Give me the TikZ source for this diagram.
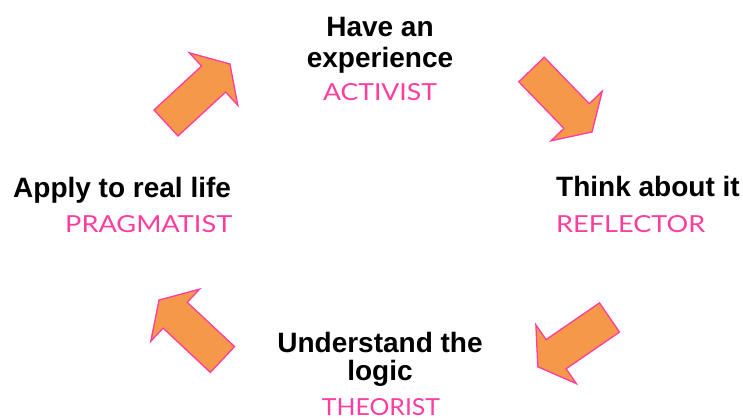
\documentclass[tikz,border=0pt]{standalone}
\usepackage{fontspec}
\setmainfont{Liberation Sans}
\newfontfamily\pinkfont{Lato}
\usepackage{graphicx}
\definecolor{pinkline}{HTML}{FF3D9E}
\definecolor{orangefill}{HTML}{F5984A}
\tikzset{
  boldtxt/.style={font=\fontsize{28}{30}\selectfont\bfseries, text=black, inner sep=0pt},
  roletxt/.style={text=pinkline, inner sep=0pt},
  blockarrow/.style={fill=orangefill, draw=pinkline, line width=1.3pt, line join=miter}
}
\newcommand\rolelabel[2]{\resizebox{#1}{17pt}{\pinkfont #2}}
\newcommand\blockarr[3]{%
  \draw[blockarrow, shift={(#1,#2)}, rotate=#3]
    (0,-17.7) -- (64.8,-17.7) -- (64.8,-35.7) -- (87,0) -- (64.8,35.7) -- (64.8,17.7) -- (0,17.7) -- cycle;}
\begin{document}
\begin{tikzpicture}[x=1pt,y=1pt]
\useasboundingbox[fill=white] (0,0) rectangle (743,-419);
% arrows
\blockarr{166}{-123}{42.7}
\blockarr{531.5}{-69.5}{-45.9}
\blockarr{609.5}{-317.5}{-145.5}
\blockarr{222.5}{-359.5}{136.9}
% top
\node[boldtxt, anchor=base] (act1) at (380,-36.5) {Have an};
\node[boldtxt, anchor=base] (act2) at (380,-68) {experience};
\node[roletxt, anchor=base] (act3) at (380,-101) {\rolelabel{114pt}{ACTIVIST}};
% right
\node[boldtxt, anchor=base west] (ref1) at (556,-197) {Think about it};
\node[roletxt, anchor=base west] (ref2) at (556,-233) {\rolelabel{149pt}{REFLECTOR}};
% left
\node[boldtxt, anchor=base west] (prag1) at (13,-198) {Apply to real life};
\node[roletxt, anchor=base west] (prag2) at (65,-233) {\rolelabel{167pt}{PRAGMATIST}};
% bottom
\node[boldtxt, anchor=base] (theo1) at (380,-352) {Understand the};
\node[boldtxt, anchor=base] (theo2) at (380,-380) {logic};
\node[roletxt, anchor=base] (theo3) at (381,-415) {\rolelabel{118pt}{THEORIST}};
\end{tikzpicture}
\end{document}
